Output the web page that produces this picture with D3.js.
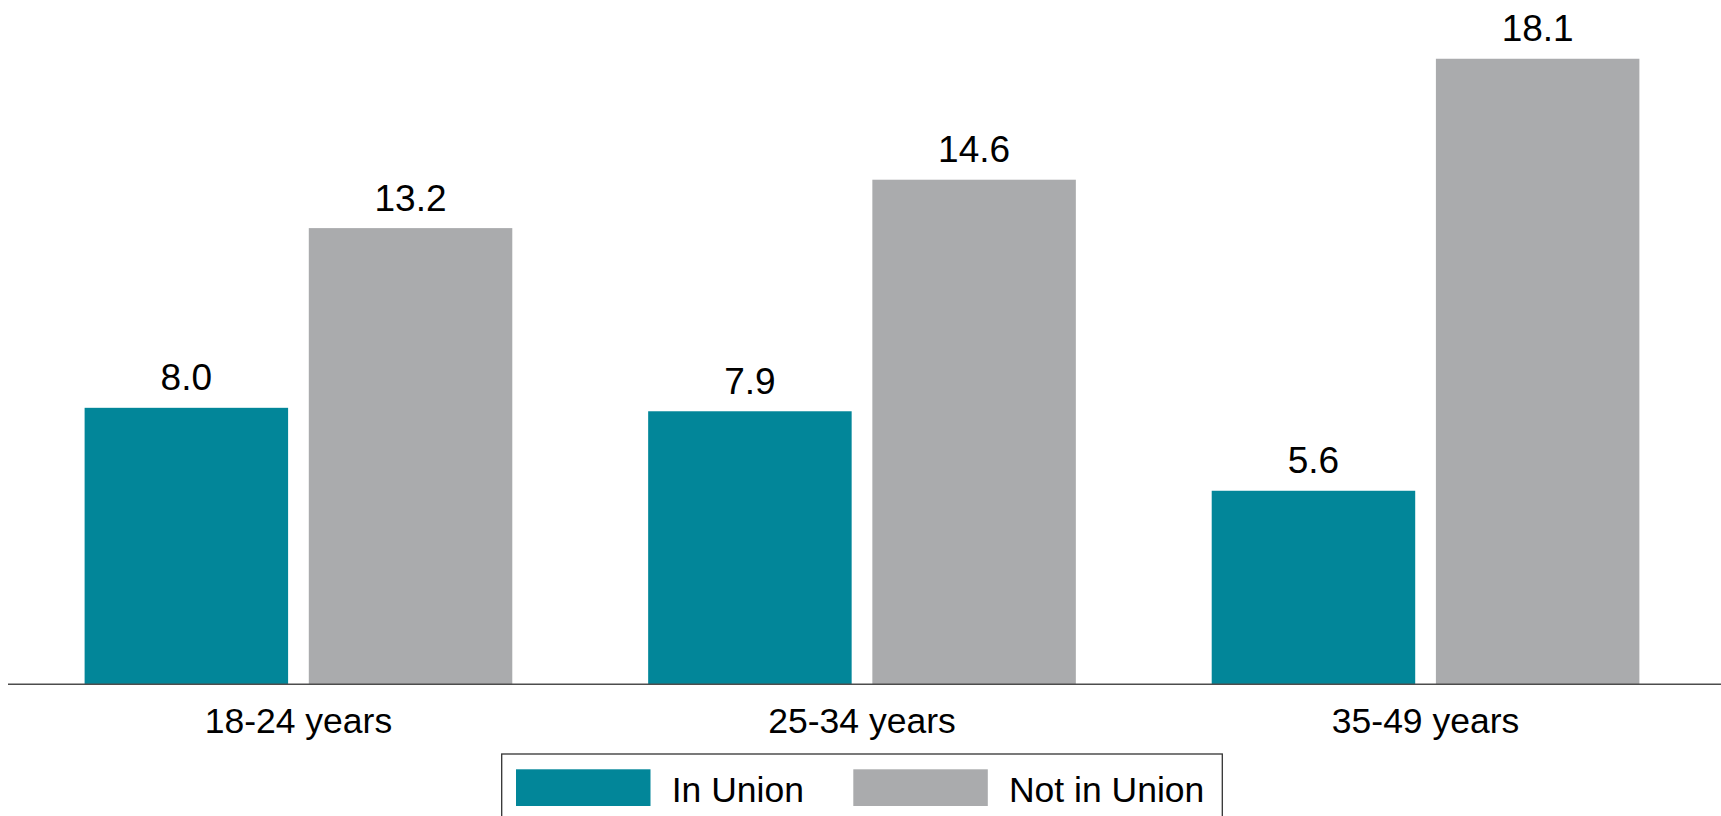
<!DOCTYPE html>
<html>
<head>
<meta charset="utf-8">
<script src="https://cdn.jsdelivr.net/npm/d3@7"></script>
<style>
	html, body { margin: 0; padding: 0; background: #fff; }
	svg { display: block; font-family: "Liberation Sans", Arial, sans-serif; }
</style>
</head>
<body>
<svg id="chart" width="1721" height="816"></svg>
<script>
// data
const categories = ["18-24 years", "25-34 years", "35-49 years"];
const seriesNames = ["In Union", "Not in Union"];
const inUnion = [8.0, 7.9, 5.6];
const notInUnion = [13.2, 14.6, 18.1];
const colors = ["#028699", "#aaabad"];

const rows = categories.map((c, i) => ({ cat: c, values: [inUnion[i], notInUnion[i]] }));

const svg = d3.select("#chart");
const baseY = 684.3;

// scales
const x0 = d3.scaleBand()
	.domain(categories)
	.range([16.7, 1707.3])
	.paddingInner(0.2411)
	.paddingOuter(0.1205);

const x1 = d3.scaleBand()
	.domain(seriesNames)
	.range([0, x0.bandwidth()])
	.paddingInner(0.0923);

const y = d3.scaleLinear().domain([0, 19.8]).range([baseY, 0]);

const color = d3.scaleOrdinal().domain(seriesNames).range(colors);

// bars
const groups = svg.append("g").selectAll("g")
	.data(rows)
	.join("g")
	.attr("transform", d => `translate(${x0(d.cat)},0)`);

const cells = groups.selectAll("g")
	.data(d => d.values.map((v, i) => ({ name: seriesNames[i], value: v })))
	.join("g");

cells.append("rect")
	.attr("x", d => x1(d.name))
	.attr("y", d => y(d.value))
	.attr("width", x1.bandwidth())
	.attr("height", d => baseY - y(d.value))
	.attr("fill", d => color(d.name));

cells.append("text")
	.attr("x", d => x1(d.name) + x1.bandwidth() / 2)
	.attr("y", d => y(d.value) - 17.6)
	.attr("text-anchor", "middle")
	.attr("font-size", 37)
	.attr("fill", "#000")
	.text(d => d.value.toFixed(1));

// x axis
const xAxis = d3.axisBottom(x0).tickSize(0).tickPadding(0);
const axisG = svg.append("g")
	.attr("transform", `translate(0,${baseY})`)
	.call(xAxis);
axisG.select(".domain").remove();
axisG.selectAll("text")
	.attr("dy", null)
	.attr("y", 48.4)
	.attr("font-size", 35.5)
	.attr("font-family", "Liberation Sans, Arial, sans-serif")
	.attr("fill", "#000");

svg.append("line")
	.attr("x1", 8).attr("x2", 1721)
	.attr("y1", baseY).attr("y2", baseY)
	.attr("stroke", "#4d4d4d")
	.attr("stroke-width", 1.5);

// legend
const legend = svg.append("g");
legend.append("rect")
	.attr("x", 501.7).attr("y", 754)
	.attr("width", 1222.3 - 501.7).attr("height", 80)
	.attr("fill", "none")
	.attr("stroke", "#333")
	.attr("stroke-width", 1.3);

const legendX = [516, 853.3];
const items = legend.selectAll("g.item")
	.data(seriesNames)
	.join("g")
	.attr("class", "item")
	.attr("transform", (d, i) => `translate(${legendX[i]},0)`);

items.append("rect")
	.attr("x", 0).attr("y", 769.3)
	.attr("width", 134.5).attr("height", 36.7)
	.attr("fill", d => color(d));

items.append("text")
	.attr("x", 155.7)
	.attr("y", 802.3)
	.attr("font-size", 35.5)
	.attr("fill", "#000")
	.text(d => d);
</script>
</body>
</html>
